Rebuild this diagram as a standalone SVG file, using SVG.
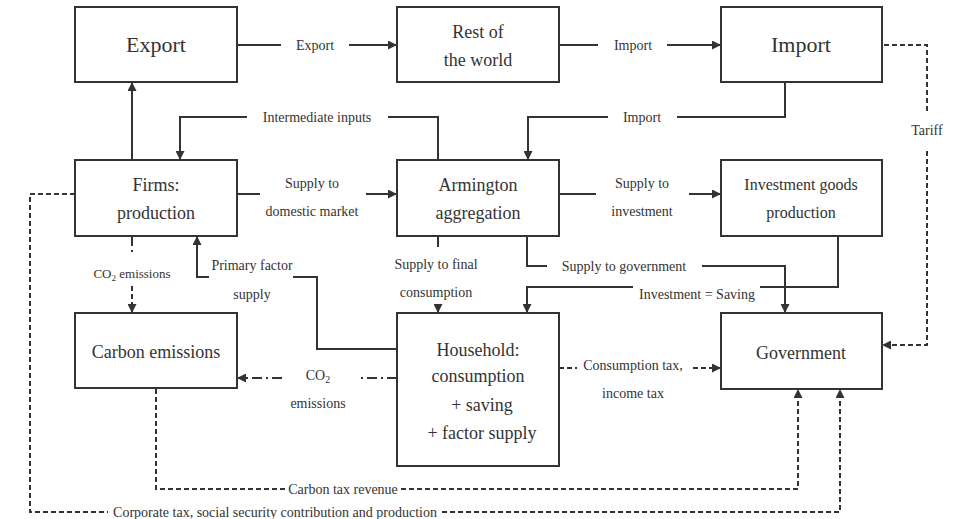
<svg xmlns="http://www.w3.org/2000/svg" width="960" height="519" viewBox="0 0 960 519">
<defs>
<style>
.box{fill:#fff;stroke:#333;stroke-width:2}
.t{font-family:"Liberation Serif","Times New Roman",serif;fill:#333;text-anchor:middle}
.big{font-size:22px}
.mid{font-size:18px}
.sm{font-size:16px}
.lbl{font-size:14px}
.co{font-size:13px}
.c{fill:none;stroke:#333;stroke-width:2}
.d{stroke-dasharray:5 3}
.dd{stroke-dasharray:10 4 2 4}
</style>
<marker id="ah" viewBox="0 0 10 10" refX="10" refY="5" markerWidth="9" markerHeight="9" markerUnits="userSpaceOnUse" orient="auto">
<path d="M0,0 L10,5 L0,10 z" fill="#333"/>
</marker>
</defs>
<rect width="960" height="519" fill="#fff"/>

<g id="connectors">
<!-- Firms -> Export -->
<path class="c" d="M132,160 V82" marker-end="url(#ah)"/>
<!-- Export -> Rest of the world -->
<path class="c" d="M237,45 H281"/>
<path class="c" d="M349,45 H397" marker-end="url(#ah)"/>
<text class="t lbl" x="315" y="50">Export</text>
<!-- Rest -> Import -->
<path class="c" d="M559,45 H598"/>
<path class="c" d="M667,45 H721" marker-end="url(#ah)"/>
<text class="t lbl" x="633" y="50">Import</text>
<!-- Import -> Armington -->
<path class="c" d="M785,82 V117 H677"/>
<path class="c" d="M608,117 H528 V160" marker-end="url(#ah)"/>
<text class="t lbl" x="642" y="122">Import</text>
<!-- Armington -> Firms (intermediate inputs) -->
<path class="c" d="M438,160 V117 H388"/>
<path class="c" d="M247,117 H180 V160" marker-end="url(#ah)"/>
<text class="t lbl" x="317" y="122">Intermediate inputs</text>
<!-- Firms -> Armington -->
<path class="c" d="M237,194 H260"/>
<path class="c" d="M366,194 H397" marker-end="url(#ah)"/>
<text class="t lbl" x="312" y="188">Supply to</text>
<text class="t lbl" x="312" y="216">domestic market</text>
<!-- Armington -> Investment -->
<path class="c" d="M559,194 H596"/>
<path class="c" d="M689,194 H721" marker-end="url(#ah)"/>
<text class="t lbl" x="642" y="188">Supply to</text>
<text class="t lbl" x="642" y="216">investment</text>
<!-- Import -> Government (tariff) -->
<path class="c d" d="M884,45 H927 V112"/>
<path class="c d" d="M927,151 V345 H882" marker-end="url(#ah)"/>
<text class="t lbl" x="927" y="135">Tariff</text>
<!-- Firms -> Carbon emissions -->
<path class="c dd" d="M132,236 V256"/>
<path class="c d" d="M132,286 V313" marker-end="url(#ah)"/>
<text class="t co" x="132" y="278">CO<tspan font-size="9" dy="3">2</tspan><tspan dy="-3"> emissions</tspan></text>
<!-- Household -> Firms (primary factor supply) -->
<path class="c" d="M397,349 H317 V277 H293"/>
<path class="c" d="M209,277 H197 V236" marker-end="url(#ah)"/>
<text class="t lbl" x="252" y="270">Primary factor</text>
<text class="t lbl" x="252" y="299">supply</text>
<!-- Armington -> Household (final consumption) -->
<path class="c" d="M438,236 V247"/>
<path class="c" d="M438,304 V313" marker-end="url(#ah)"/>
<text class="t lbl" x="436" y="269">Supply to final</text>
<text class="t lbl" x="436" y="297">consumption</text>
<!-- Armington -> Government -->
<path class="c" d="M527,236 V266 H547"/>
<path class="c" d="M702,266 H785 V313" marker-end="url(#ah)"/>
<text class="t lbl" x="624" y="271">Supply to government</text>
<!-- Investment -> Household (Investment = Saving) -->
<path class="c" d="M838,236 V287 H760"/>
<path class="c" d="M633,287 H527 V313" marker-end="url(#ah)"/>
<text class="t lbl" x="697" y="299">Investment = Saving</text>
<!-- Household -> Carbon emissions -->
<path class="c dd" d="M397,378 H358"/>
<path class="c dd" d="M282,378 H237" marker-end="url(#ah)"/>
<text class="t lbl" x="318" y="380">CO<tspan font-size="10" dy="3">2</tspan></text>
<text class="t lbl" x="318" y="408">emissions</text>
<!-- Household -> Government -->
<path class="c d" d="M559,368 H577"/>
<path class="c d" d="M693,368 H721" marker-end="url(#ah)"/>
<text class="t lbl" x="633" y="370">Consumption tax,</text>
<text class="t lbl" x="633" y="398">income tax</text>
<!-- Carbon tax revenue -->
<path class="c d" d="M156,389 V489 H286"/>
<path class="c d" d="M401,489 H798 V389" marker-end="url(#ah)"/>
<text class="t lbl" x="343" y="494">Carbon tax revenue</text>
<!-- Corporate tax -->
<path class="c d" d="M75,194 H30 V512 H108"/>
<path class="c d" d="M442,512 H840 V389" marker-end="url(#ah)"/>
<text class="t lbl" x="275" y="517">Corporate tax, social security contribution and production</text>
</g>

<g id="export">
<rect class="box" x="75" y="7" width="162" height="75"/>
<text class="t big" x="156" y="52">Export</text>
</g>
<g id="rest-of-world">
<rect class="box" x="397" y="7" width="162" height="75"/>
<text class="t mid" x="478" y="38">Rest of</text>
<text class="t mid" x="478" y="66">the world</text>
</g>
<g id="import">
<rect class="box" x="721" y="7" width="161" height="75"/>
<text class="t big" x="801" y="52">Import</text>
</g>
<g id="firms">
<rect class="box" x="75" y="160" width="162" height="76"/>
<text class="t mid" x="156" y="191">Firms:</text>
<text class="t mid" x="156" y="219">production</text>
</g>
<g id="armington">
<rect class="box" x="397" y="160" width="162" height="76"/>
<text class="t mid" x="478" y="191">Armington</text>
<text class="t mid" x="478" y="219">aggregation</text>
</g>
<g id="investment">
<rect class="box" x="721" y="160" width="161" height="76"/>
<text class="t sm" x="801" y="190">Investment goods</text>
<text class="t sm" x="801" y="218">production</text>
</g>
<g id="carbon">
<rect class="box" x="75" y="313" width="162" height="75"/>
<text class="t mid" x="156" y="358">Carbon emissions</text>
</g>
<g id="household">
<rect class="box" x="397" y="313" width="162" height="153"/>
<text class="t mid" x="478" y="356">Household:</text>
<text class="t mid" x="478" y="382">consumption</text>
<text class="t mid" x="482" y="411">+ saving</text>
<text class="t mid" x="482" y="439">+ factor supply</text>
</g>
<g id="government">
<rect class="box" x="721" y="313" width="161" height="76"/>
<text class="t mid" x="801" y="359">Government</text>
</g>
</svg>
